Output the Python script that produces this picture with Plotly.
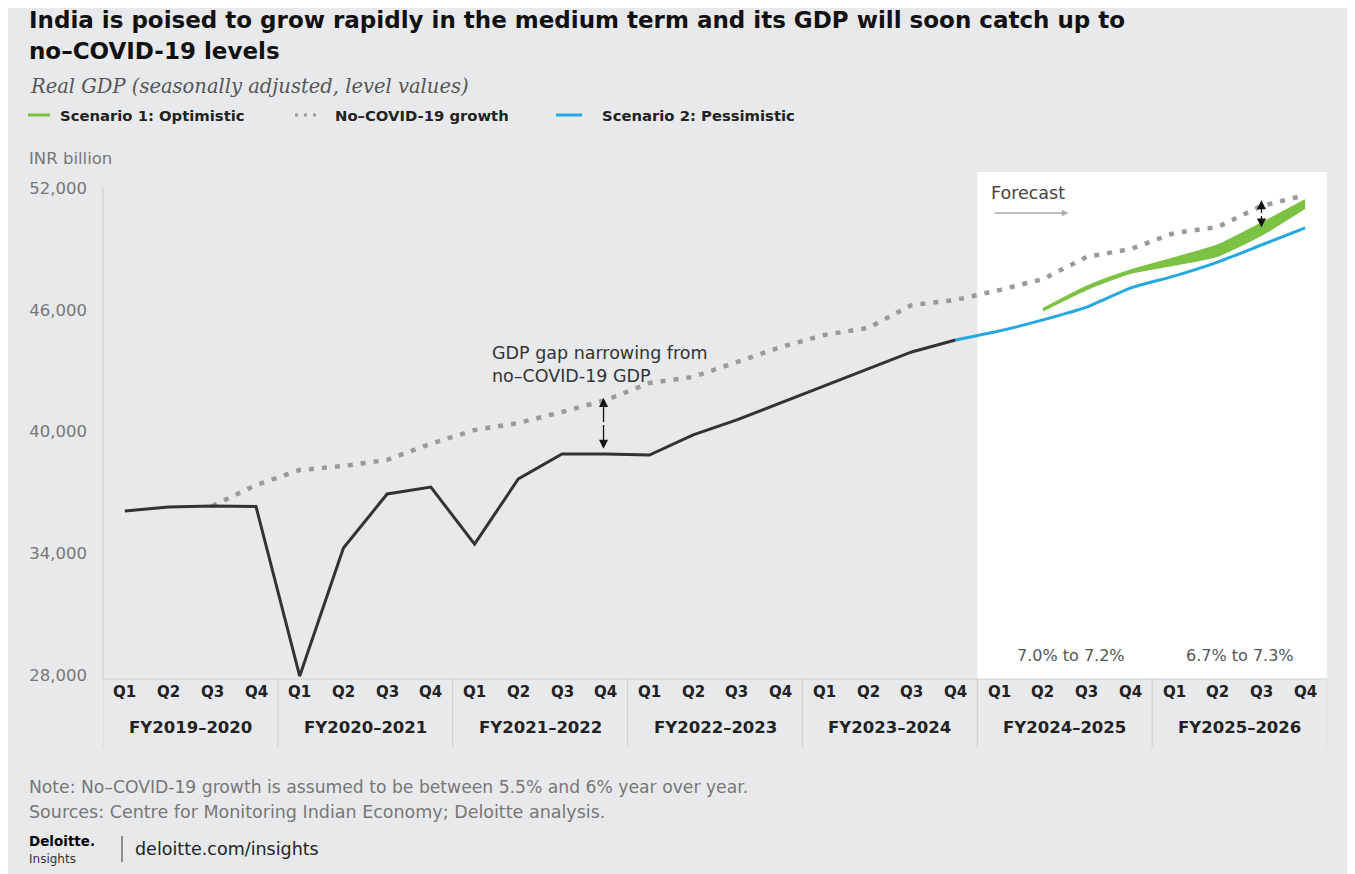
import plotly.graph_objects as go

# ---------------- data ----------------
quarters = ["Q1", "Q2", "Q3", "Q4"] * 7
fiscal_years = ["FY2019–2020", "FY2020–2021", "FY2021–2022", "FY2022–2023",
                "FY2023–2024", "FY2024–2025", "FY2025–2026"]
x_idx = list(range(len(quarters)))

actual = [36080, 36280, 36330, 36300, 27950, 34260, 36920, 37260, 34450, 37660,
          38890, 38890, 38840, 39830, 40570, 41400, 42240, 43080, 43920, 44510]
actual_start = 0

no_covid = [36330, 37360, 38100, 38300, 38600, 39400, 40070, 40420, 40960, 41550,
            42390, 42690, 43420, 44160, 44760, 45100, 46230, 46480, 46970, 47510,
            48600, 48990, 49780, 50080, 51110, 51650]
no_covid_start = 2

pessimistic = [44510, 44950, 45500, 46130, 47070, 47660, 48350, 49190, 50030]
pessimistic_start = 19

optimistic_low = [45950, 47000, 47800, 48200, 48650, 49680, 51010]
optimistic_high = [46050, 47150, 47950, 48550, 49190, 50270, 51410]
optimistic_start = 21

y_ticks = [28000, 34000, 40000, 46000, 52000]
growth_labels = ["7.0% to 7.2%", "6.7% to 7.3%"]

# ---------------- layout helpers (screenshot pixel coords) ----------------
OFF = 8                      # browser body margin
W, H = 1355 - OFF, 874 - OFF
L, R, T, B = 103, 1327, 172, 679
BG = "#E8E9EB"
GREEN = "#7CC242"
BLUE = "#25A8DF"
DARK = "#333333"
GREY = "#9A9A9A"
SANS = "DejaVu Sans"


def px(x):
    return (x - L) / (R - L)


def py(y):
    return (B - y) / (B - T)


ppu = (675 - 188) / 24000          # pixels per unit
y_top = 52000 + (188 - T) / ppu
y_bot = 28000 - (B - 675) / ppu
X0_PIX, X_STEP = 124, 43.74


def xd(pix):
    return (pix - X0_PIX) / X_STEP


def yd(pix):
    return 52000 - (pix - 188) / ppu


fig = go.Figure()

fig.add_trace(go.Scatter(
    x=x_idx[no_covid_start:no_covid_start + len(no_covid)], y=no_covid,
    mode="lines", line=dict(color=GREY, width=4.5, dash="5px,8px"),
    hoverinfo="skip", showlegend=False))

xo = x_idx[optimistic_start:optimistic_start + len(optimistic_low)]
fig.add_trace(go.Scatter(x=xo, y=optimistic_low, mode="lines",
                         line=dict(color=GREEN, width=1.5, shape="spline", smoothing=0.6),
                         hoverinfo="skip", showlegend=False))
fig.add_trace(go.Scatter(x=xo, y=optimistic_high, mode="lines", fill="tonexty",
                         fillcolor=GREEN,
                         line=dict(color=GREEN, width=1.5, shape="spline", smoothing=0.6),
                         hoverinfo="skip", showlegend=False))

fig.add_trace(go.Scatter(
    x=x_idx[pessimistic_start:pessimistic_start + len(pessimistic)], y=pessimistic,
    mode="lines", line=dict(color=BLUE, width=3, shape="spline", smoothing=0.5),
    hoverinfo="skip", showlegend=False))

fig.add_trace(go.Scatter(
    x=x_idx[actual_start:actual_start + len(actual)], y=actual,
    mode="lines", line=dict(color=DARK, width=3),
    hoverinfo="skip", showlegend=False))

ann = []
shapes = []

# forecast white panel
shapes.append(dict(type="rect", xref="x", yref="y", x0=19.5, x1=27.5, y0=y_bot, y1=y_top,
                   fillcolor="white", line=dict(width=0), layer="below"))
# y axis line (starts at top tick)
shapes.append(dict(type="line", xref="paper", yref="paper", x0=0, x1=0, y0=py(679), y1=py(188),
                   line=dict(color="#CFCFCF", width=1.2)))

# title / subtitle
ann.append(dict(xref="paper", yref="paper", x=px(27), y=py(20.5), xanchor="left", yanchor="middle",
                showarrow=False,
                text="<b>India is poised to grow rapidly in the medium term and its GDP will soon catch up to</b>",
                font=dict(family=SANS, size=23, color="#111111")))
ann.append(dict(xref="paper", yref="paper", x=px(27), y=py(50.5), xanchor="left", yanchor="middle",
                showarrow=False, text="<b>no–COVID-19 levels</b>",
                font=dict(family=SANS, size=23, color="#111111")))
ann.append(dict(xref="paper", yref="paper", x=px(28), y=py(86), xanchor="left", yanchor="middle",
                showarrow=False, text="<i>Real GDP (seasonally adjusted, level values)</i>",
                font=dict(family="DejaVu Serif", size=19.5, color="#555555")))

# legend
leg_y = 115
legend_items = [
    (28, 50, 58, "Scenario 1: Optimistic", GREEN, False),
    (295, 322, 333, "No–COVID-19 growth", GREY, True),
    (556, 582, 600, "Scenario 2: Pessimistic", BLUE, False),
]
for x0, x1, xt, label, col, dotted in legend_items:
    shapes.append(dict(type="line", xref="paper", yref="paper", x0=px(x0), x1=px(x1),
                       y0=py(leg_y), y1=py(leg_y), layer="above",
                       line=dict(color=col, width=3, dash="3px,6px" if dotted else "solid")))
    ann.append(dict(xref="paper", yref="paper", x=px(xt), y=py(leg_y), xanchor="left",
                    yanchor="middle", showarrow=False, text="<b>%s</b>" % label,
                    font=dict(family=SANS, size=14.8, color="#222222")))

ann.append(dict(xref="paper", yref="paper", x=px(27), y=py(158), xanchor="left", yanchor="middle",
                showarrow=False, text="INR billion",
                font=dict(family=SANS, size=16.5, color="#777777")))

# x category labels
for i, q in enumerate(quarters):
    ann.append(dict(xref="x", yref="paper", x=i, y=py(692), xanchor="center", yanchor="middle",
                    showarrow=False, text="<b>%s</b>" % q,
                    font=dict(family=SANS, size=15, color="#222222")))
for g, fy in enumerate(fiscal_years):
    ann.append(dict(xref="x", yref="paper", x=g * 4 + 1.5, y=py(727), xanchor="center",
                    yanchor="middle", showarrow=False, text="<b>%s</b>" % fy,
                    font=dict(family=SANS, size=16.5, color="#222222")))
for g in range(len(fiscal_years) + 1):
    shapes.append(dict(type="line", xref="x", yref="paper", x0=g * 4 - 0.5, x1=g * 4 - 0.5,
                       y0=py(679), y1=py(748), line=dict(color="#CFCFCF", width=1)))
shapes.append(dict(type="line", xref="paper", yref="paper", x0=0, x1=1, y0=0, y1=0,
                   line=dict(color="#CFCFCF", width=1.2)))

# in-chart annotations
ann.append(dict(xref="x", yref="y", x=xd(489), y=yd(364),
                xanchor="left", yanchor="middle", align="left", showarrow=False,
                text="GDP gap narrowing from<br>no–COVID-19 GDP",
                font=dict(family=SANS, size=17.5, color="#333333")))
for ya, yb in [(40400, 41650), (40400, 39150)]:
    ann.append(dict(xref="x", yref="y", axref="x", ayref="y", x=10.95, y=yb, ax=10.95, ay=ya,
                    showarrow=True, arrowhead=2, arrowsize=1.4, arrowwidth=1.3,
                    arrowcolor="#111111", text=""))
for ya, yb in [(50700, 51400), (50700, 50050)]:
    ann.append(dict(xref="x", yref="y", axref="x", ayref="y", x=26.0, y=yb, ax=26.0, ay=ya,
                    showarrow=True, arrowhead=2, arrowsize=1.4, arrowwidth=1.3,
                    arrowcolor="#111111", text=""))
ann.append(dict(xref="x", yref="y", x=xd(989), y=yd(193),
                xanchor="left", yanchor="middle", showarrow=False, text="Forecast",
                font=dict(family=SANS, size=17.5, color="#444444")))
ann.append(dict(xref="x", yref="y", axref="x", ayref="y",
                x=xd(1068), y=yd(213), ax=xd(993), ay=yd(213),
                showarrow=True, arrowhead=2, arrowsize=1, arrowwidth=1.3,
                arrowcolor="#AAAAAA", text=""))
for xc, lbl in zip([21.65, 25.5], growth_labels):
    ann.append(dict(xref="x", yref="paper", x=xc, y=py(655), xanchor="center", yanchor="middle",
                    showarrow=False, text=lbl,
                    font=dict(family=SANS, size=16, color="#555555")))

# footer
ann.append(dict(xref="paper", yref="paper", x=px(27), y=py(787), xanchor="left", yanchor="middle",
                showarrow=False,
                text="Note: No–COVID-19 growth is assumed to be between 5.5% and 6% year over year.",
                font=dict(family=SANS, size=17.2, color="#777777")))
ann.append(dict(xref="paper", yref="paper", x=px(27), y=py(812), xanchor="left", yanchor="middle",
                showarrow=False,
                text="Sources: Centre for Monitoring Indian Economy; Deloitte analysis.",
                font=dict(family=SANS, size=17.5, color="#777777")))
ann.append(dict(xref="paper", yref="paper", x=px(27), y=py(841), xanchor="left", yanchor="middle",
                showarrow=False, text="<b>Deloitte.</b>",
                font=dict(family=SANS, size=13.5, color="#000000")))
ann.append(dict(xref="paper", yref="paper", x=px(27), y=py(858.5), xanchor="left", yanchor="middle",
                showarrow=False, text="Insights",
                font=dict(family=SANS, size=12, color="#333333")))
shapes.append(dict(type="line", xref="paper", yref="paper", x0=px(122), x1=px(122),
                   y0=py(836), y1=py(862), line=dict(color="#333333", width=1)))
ann.append(dict(xref="paper", yref="paper", x=px(133), y=py(849), xanchor="left", yanchor="middle",
                showarrow=False, text="deloitte.com/insights",
                font=dict(family=SANS, size=17.5, color="#222222")))

fig.update_layout(
    width=W, height=H,
    margin=dict(l=L - OFF, r=(W + OFF) - R, t=T - OFF, b=(H + OFF) - B, pad=0),
    paper_bgcolor=BG, plot_bgcolor=BG,
    showlegend=False,
    xaxis=dict(range=[-0.5, 27.5], showgrid=False, zeroline=False, showticklabels=False,
               ticks="", showline=False, fixedrange=True),
    yaxis=dict(range=[y_bot, y_top], tickvals=y_ticks, ticktext=[f"{v:,}" for v in y_ticks],
               showgrid=False, zeroline=False, showline=False,
               ticks="", ticklabelstandoff=15,
               tickfont=dict(family=SANS, size=16.5, color="#777777")),
)
fig.layout.shapes = shapes
fig.layout.annotations = ann

fig.write_html("out.html")
